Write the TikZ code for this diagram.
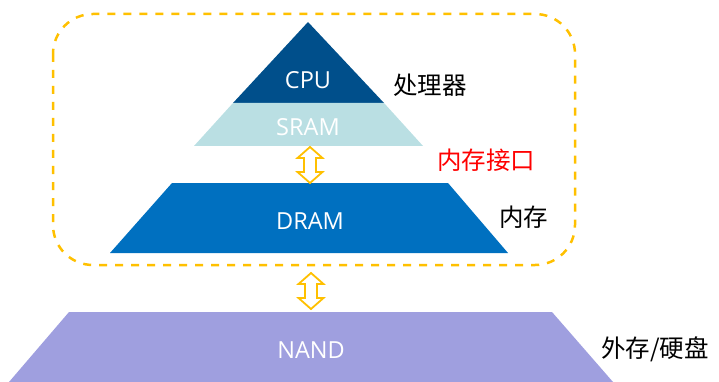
\documentclass[tikz,border=0pt]{standalone}
\usepackage{fontspec}
\setmainfont{Open Sans}
\newfontfamily\cjk{Noto Sans CJK SC}
\definecolor{cpublue}{HTML}{004F8B}
\definecolor{sramcyan}{HTML}{BADFE3}
\definecolor{dramblue}{HTML}{0070C0}
\definecolor{nandviolet}{HTML}{9F9FDF}
\definecolor{gold}{HTML}{FFC000}
\definecolor{ifred}{HTML}{FF0000}

\begin{document}
\begin{tikzpicture}[x=1pt,y=1pt]
	\tikzstyle{every node}+=[inner sep=0pt]
	\tikzstyle{memname}=[text=white,font=\fontsize{23.5}{27}\selectfont]
	\tikzstyle{side}=[anchor=west,font=\cjk\fontsize{24.5}{28}\selectfont]
	\tikzstyle{link}=[draw=gold,fill=white,line width=1.8pt,line join=miter]
	\useasboundingbox (0,0) rectangle (719,-382);
	\draw [gold,line width=2.5pt,dash pattern=on 8pt off 8pt,rounded corners=40pt] (53,-14) rectangle (575,-265);
	\fill [cpublue] (308,-22) -- (384,-103) -- (233,-103) -- cycle;
	\fill [sramcyan] (233,-103) -- (384,-103) -- (423,-146) -- (194,-146) -- cycle;
	\fill [dramblue] (172,-183) -- (448,-183) -- (508,-253) -- (110,-253) -- cycle;
	\fill [nandviolet] (69,-312) -- (552,-312) -- (613,-382) -- (9,-382) -- cycle;
	\node [memname] (cpu) at (308,-80) {CPU};
	\node [memname] (sram) at (308,-127) {SRAM};
	\node [memname] (dram) at (310,-221) {DRAM};
	\node [memname] (nand) at (311,-350) {NAND};
	\coordinate (l1) at (310,-165);
	\coordinate (l2) at (311,-291);
	\draw [link,shift={(l1)}] (0,18) -- (12.5,7) -- (6,7) -- (6,-7) -- (12.5,-7) -- (0,-18)
		-- (-12.5,-7) -- (-6,-7) -- (-6,7) -- (-12.5,7) -- cycle;
	\draw [link,shift={(l2)}] (0,18) -- (12.5,7) -- (6,7) -- (6,-7) -- (12.5,-7) -- (0,-18)
		-- (-12.5,-7) -- (-6,-7) -- (-6,7) -- (-12.5,7) -- cycle;
	\node [side] (proc) at (393,-85) {处理器};
	\node [side,text=ifred] (memif) at (437,-160) {内存接口};
	\node [side] (mem) at (499,-217) {内存};
	\node [side] (ext) at (601,-349) {外存/硬盘};
\end{tikzpicture}
\end{document}
